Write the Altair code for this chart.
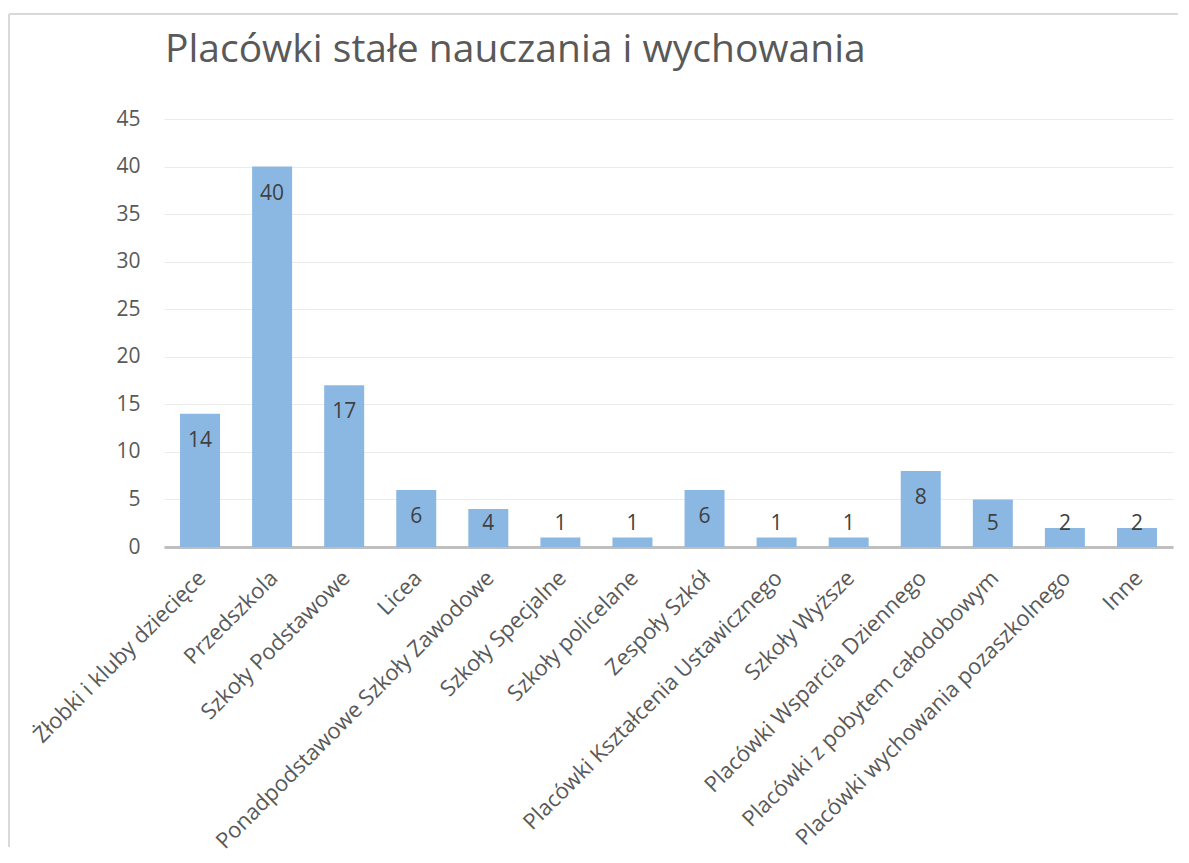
import altair as alt
import pandas as pd

categories = [
    "Żłobki i kluby dziecięce",
    "Przedszkola",
    "Szkoły Podstawowe",
    "Licea",
    "Ponadpodstawowe Szkoły Zawodowe",
    "Szkoły Specjalne",
    "Szkoły policelane",
    "Zespoły Szkół",
    "Placówki Kształcenia Ustawicznego",
    "Szkoły Wyższe",
    "Placówki Wsparcia Dziennego",
    "Placówki z pobytem całodobowym",
    "Placówki wychowania pozaszkolnego",
    "Inne",
]
values = [14, 40, 17, 6, 4, 1, 1, 6, 1, 1, 8, 5, 2, 2]
y_ticks = [0, 5, 10, 15, 20, 25, 30, 35, 40, 45]
title_text = "Placówki stałe nauczania i wychowania"

df = pd.DataFrame({"cat": categories, "v": values})

FONT = "Open Sans"
FS = 21
W, H = 1009, 428

x_enc = alt.X(
    "cat:N",
    sort=categories,
    title=None,
    scale=alt.Scale(paddingInner=0.445, paddingOuter=0.2225),
    axis=alt.Axis(
        labelAngle=-45,
        labelFontSize=22,
        labelFont=FONT,
        labelColor="#595959",
        labelPadding=20,
        labelOffset=-5,
        ticks=False,
        domainColor="#bfbfbf",
        domainWidth=3,
        labelLimit=500,
    ),
)
y_enc = alt.Y(
    "v:Q",
    title=None,
    scale=alt.Scale(domain=[0, 45], nice=False),
    axis=alt.Axis(
        values=y_ticks,
        labelFontSize=FS,
        labelFont=FONT,
        labelColor="#595959",
        labelPadding=24,
        ticks=False,
        domain=False,
        gridColor="#ebebeb",
        gridWidth=1.2,
    ),
)

base = alt.Chart(df)
bars = base.mark_bar(color="#8bb8e3").encode(x=x_enc, y=y_enc)

labels = (
    base.transform_calculate(ly="max(datum.v, 5.3)")
    .mark_text(dy=27, baseline="middle", fontSize=FS, font=FONT, color="#404040")
    .encode(x=alt.X("cat:N", sort=categories), y=alt.Y("ly:Q"), text="v:Q")
)

one = pd.DataFrame({"t": [title_text]})
title = (
    alt.Chart(one)
    .mark_text(align="left", baseline="alphabetic", fontSize=39, font=FONT, color="#595959")
    .encode(x=alt.value(1), y=alt.value(-57), text="t:N")
)
frame_top = (
    alt.Chart(one)
    .mark_rule(color="#d9d9d9", strokeWidth=2)
    .encode(x=alt.value(-155), x2=alt.value(1014), y=alt.value(-105))
)
frame_left = (
    alt.Chart(one)
    .mark_rule(color="#d9d9d9", strokeWidth=2)
    .encode(x=alt.value(-155), y=alt.value(-105), y2=alt.value(728))
)

chart = (
    alt.layer(frame_top, frame_left, title, bars, labels)
    .properties(width=W, height=H, padding={"top": 5, "left": 0, "right": 0, "bottom": 0})
    .configure_view(stroke=None)
)

chart.save("out.html", embed_options={"renderer": "svg", "actions": False})
